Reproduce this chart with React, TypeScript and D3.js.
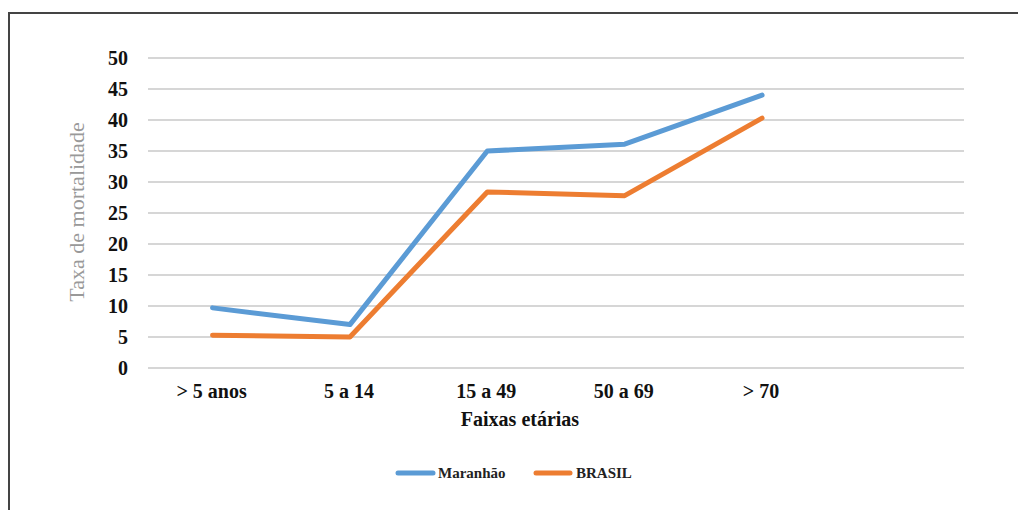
import React from "react";
import * as d3 from "d3";

const categories = ["> 5 anos", "5 a 14", "15 a 49", "50 a 69", "> 70"];
const maranhao = [9.7, 7.0, 35.0, 36.1, 44.0];
const brasil = [5.3, 5.0, 28.4, 27.8, 40.3];
const yTicks = [0, 5, 10, 15, 20, 25, 30, 35, 40, 45, 50];
const seriesNames = ["Maranhão", "BRASIL"];
const seriesColors = ["#5B9BD5", "#ED7D31"];

const W = 1018;
const H = 510;
const plotLeft = 148;
const plotRight = 964;
const plotTop = 58;
const plotBottom = 368;
const FONT = "'Liberation Serif', 'Times New Roman', serif";

export default function App() {
  const slots = [...categories, ""];
  const x = d3.scalePoint<string>().domain(slots).range([plotLeft, plotRight]).padding(0.47);
  const cx = (c: string) => x(c) ?? 0;
  const y = d3.scaleLinear().domain([0, 50]).range([plotBottom, plotTop]);
  const line = d3
    .line<number>()
    .x((_, i) => cx(categories[i]))
    .y((d) => y(d));
  const series = [maranhao, brasil];

  const legendItems = [
    { x0: 398, x1: 433, tx: 438 },
    { x0: 536, x1: 570, tx: 576 },
  ];

  return (
    <svg
      width={W}
      height={H}
      style={{ position: "absolute", left: 0, top: 0, background: "#fff" }}
      fontFamily={FONT}
    >
      <rect x={0} y={0} width={W} height={H} fill="#fff" />
      <rect x={9} y={13} width={W + 20} height={H + 20} fill="none" stroke="#444" strokeWidth={2} />
      {yTicks.map((t) => (
        <g key={t}>
          <line x1={plotLeft} x2={plotRight} y1={y(t)} y2={y(t)} stroke="#C8C8C8" strokeWidth={1.5} />
          <text x={128} y={y(t)} dy="0.35em" textAnchor="end" fontSize={20} fontWeight="bold" fill="#111">
            {t}
          </text>
        </g>
      ))}
      {categories.map((c) => (
        <text key={c} x={cx(c) - 1} y={398} textAnchor="middle" fontSize={20} fontWeight="bold" fill="#111">
          {c}
        </text>
      ))}
      <text x={520} y={426} textAnchor="middle" fontSize={20} fontWeight="bold" fill="#111">
        Faixas etárias
      </text>
      <text
        transform={`translate(84,212) rotate(-90)`}
        textAnchor="middle"
        fontSize={22}
        fill="#999"
      >
        Taxa de mortalidade
      </text>
      {series.map((s, i) => (
        <path
          key={i}
          d={line(s) ?? ""}
          fill="none"
          stroke={seriesColors[i]}
          strokeWidth={5}
          strokeLinejoin="round"
          strokeLinecap="round"
        />
      ))}
      {legendItems.map((l, i) => (
        <g key={i}>
          <line x1={l.x0} x2={l.x1} y1={473} y2={473} stroke={seriesColors[i]} strokeWidth={5} strokeLinecap="round" />
          <text x={l.tx} y={478} fontSize={15} fontWeight="bold" fill="#222">
            {seriesNames[i]}
          </text>
        </g>
      ))}
    </svg>
  );
}
